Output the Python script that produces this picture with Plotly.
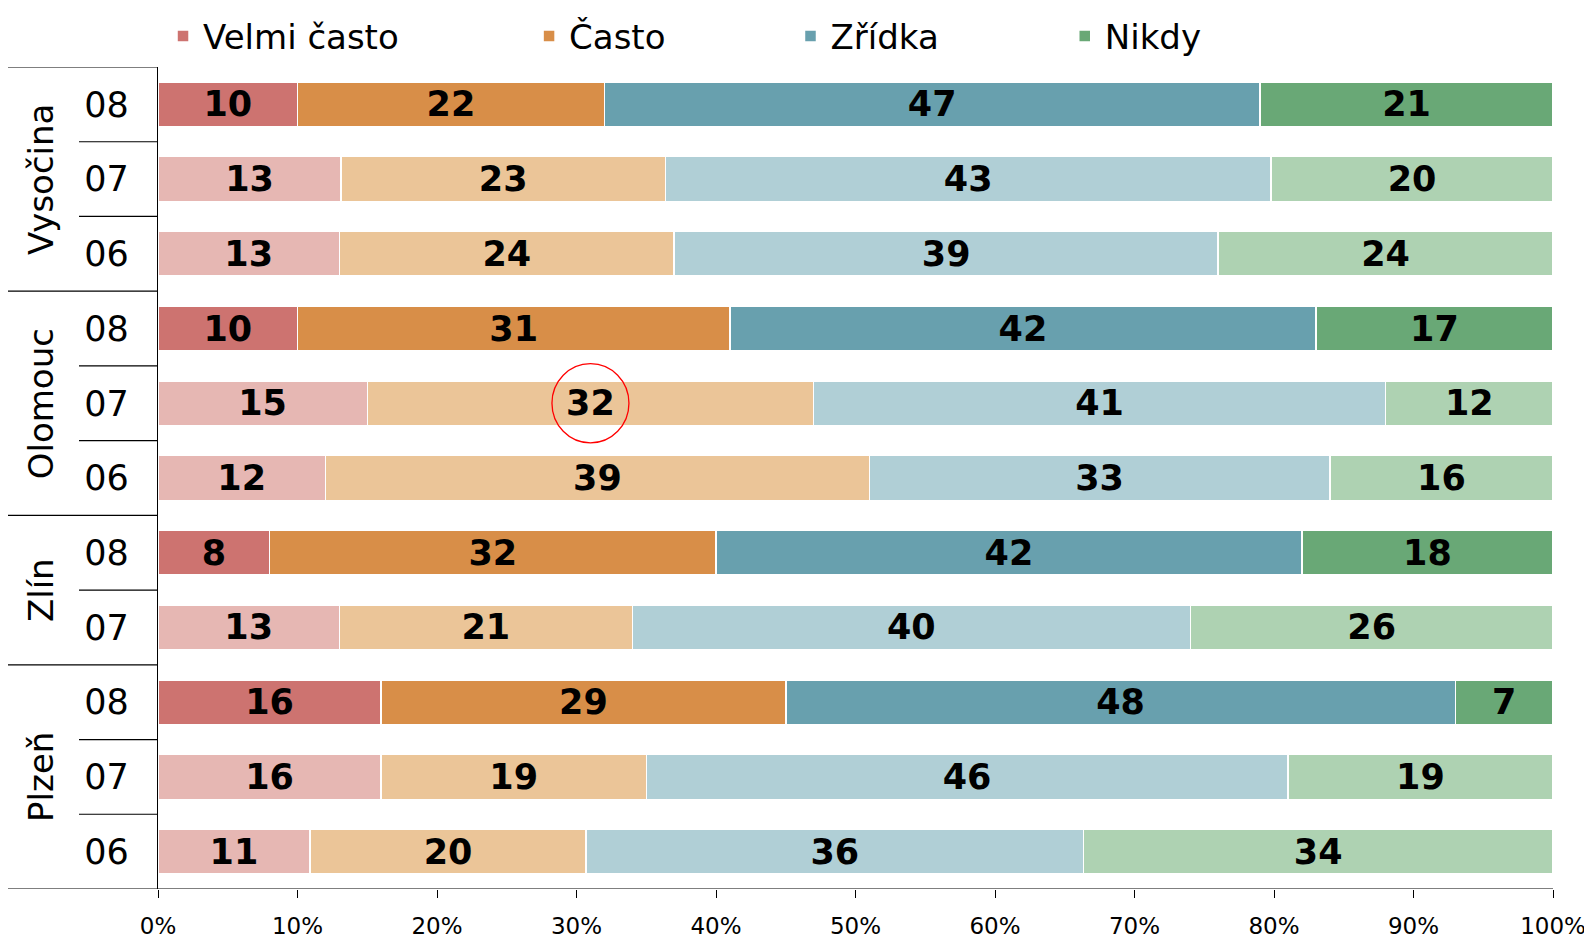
import plotly.graph_objects as go

regions = ["Vysočina", "Vysočina", "Vysočina", "Olomouc", "Olomouc", "Olomouc",
           "Zlín", "Zlín", "Plzeň", "Plzeň", "Plzeň"]
years = ["08", "07", "06", "08", "07", "06", "08", "07", "08", "07", "06"]

velmi_casto = [10, 13, 13, 10, 15, 12, 8, 13, 16, 16, 11]
casto = [22, 23, 24, 31, 32, 39, 32, 21, 29, 19, 20]
zridka = [47, 43, 39, 42, 41, 33, 42, 40, 48, 46, 36]
nikdy = [21, 20, 24, 17, 12, 16, 18, 26, 7, 19, 34]

series_names = ["Velmi často", "Často", "Zřídka", "Nikdy"]
series_values = [velmi_casto, casto, zridka, nikdy]
dark_colors = ["#CD7370", "#D88E48", "#68A0AE", "#69A876"]
light_colors = ["#E6B7B3", "#EBC598", "#B0CFD6", "#AED2B2"]

x_ticks = [0, 10, 20, 30, 40, 50, 60, 70, 80, 90, 100]
x_ticktext = [f"{v}%" for v in x_ticks]

# highlighted label (Olomouc 07, "Často")
highlight_row = 4
highlight_series = 1

FONT = "Verdana, DejaVu Sans, sans-serif"

# page body has an 8px margin, so the figure is 8px smaller than the window
W, H = 1584, 931
L, R, T, B = 150, 39, 59, 50
pw = W - L - R

rows = list(range(len(years)))
fig = go.Figure()
legend_x = [0.0036, 0.266, 0.4534, 0.650]
for i, (name, vals) in enumerate(zip(series_names, series_values)):
    colors = [dark_colors[i] if y == "08" else light_colors[i] for y in years]
    lg = "legend" if i == 0 else f"legend{i+1}"
    fig.add_trace(go.Bar(
        y=rows, x=vals, name=name, orientation="h",
        marker=dict(color=colors, line=dict(color="white", width=1.5)),
        text=[str(v) for v in vals], textposition="inside",
        insidetextanchor="middle", textangle=0,
        textfont=dict(family=FONT, size=35, color="black", weight="bold"),
        legend=lg, showlegend=True,
    ))

layout_legends = {}
for i, name in enumerate(series_names):
    key = "legend" if i == 0 else f"legend{i+1}"
    layout_legends[key] = dict(
        orientation="h", yref="container", y=1 - 28.5 / H, yanchor="middle",
        xanchor="left", x=legend_x[i],
        font=dict(family=FONT, size=34, color="black"),
        bgcolor="rgba(0,0,0,0)", borderwidth=0)

# group structure
groups = []
for idx, r in enumerate(regions):
    if not groups or groups[-1][0] != r:
        groups.append([r, idx, idx])
    else:
        groups[-1][2] = idx

x_outer = (0 - L) / pw
x_inner = (71 - L) / pw

shapes = []
annotations = []
for g, start, end in groups:
    shapes.append(dict(type="line", xref="paper", yref="y", x0=x_outer, x1=0,
                       y0=start - 0.5, y1=start - 0.5, line=dict(color="black", width=1.2)))
    for k in range(start + 1, end + 1):
        shapes.append(dict(type="line", xref="paper", yref="y", x0=x_inner, x1=0,
                           y0=k - 0.5, y1=k - 0.5, line=dict(color="black", width=1.2)))
    annotations.append(dict(xref="paper", yref="y", x=(33 - L) / pw, y=(start + end) / 2,
                            text=g, textangle=-90, showarrow=False,
                            font=dict(family=FONT, size=34, color="black"),
                            xanchor="center", yanchor="middle"))
# bottom baseline extending left
shapes.append(dict(type="line", xref="paper", yref="y", x0=x_outer, x1=1,
                   y0=len(years) - 0.5, y1=len(years) - 0.5, line=dict(color="black", width=1.2)))

# red circle around highlighted label
tot = sum(series_values[j][highlight_row] for j in range(4))
hx = sum(series_values[j][highlight_row] for j in range(highlight_series)) + \
     series_values[highlight_series][highlight_row] / 2
hx = hx / tot * 100
shapes.append(dict(type="circle", xref="x", yref="y", x0=hx - 2.76, x1=hx + 2.76,
                   y0=highlight_row - 0.53, y1=highlight_row + 0.53,
                   line=dict(color="red", width=1.3)))

fig.update_layout(
    barmode="stack", barnorm="percent", bargap=0.4,
    width=W, height=H, margin=dict(l=L, r=R, t=T, b=B, autoexpand=False),
    plot_bgcolor="white", paper_bgcolor="white",
    font=dict(family=FONT, color="black"),
    uniformtext=dict(minsize=35, mode="show"),
    xaxis=dict(range=[0, 100], tickvals=x_ticks, ticktext=x_ticktext,
               ticks="outside", ticklen=8, tickcolor="black", tickwidth=1,
               showgrid=False, zeroline=False, showline=False, automargin=False,
               ticklabelstandoff=8,
               tickfont=dict(family=FONT, size=23, color="black")),
    yaxis=dict(tickvals=rows, ticktext=years, range=[len(years) - 0.5, -0.5],
               showgrid=False, zeroline=False, showline=True, linecolor="black", linewidth=1.2,
               ticks="", ticklabelstandoff=21, automargin=False,
               tickfont=dict(family=FONT, size=35, color="black")),
    shapes=shapes, annotations=annotations,
    **layout_legends,
)

fig.write_html("out.html")
